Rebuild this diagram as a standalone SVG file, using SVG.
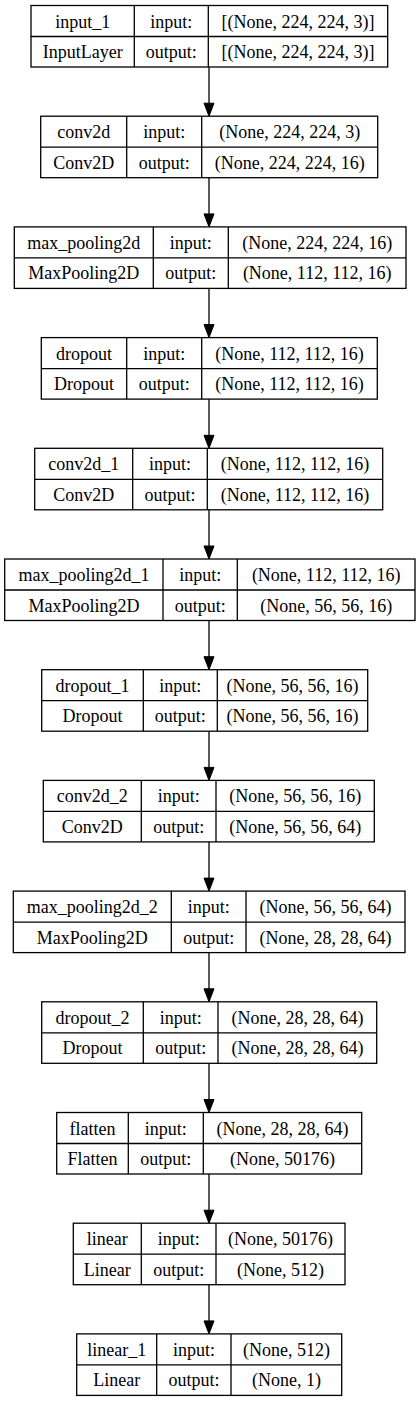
<svg xmlns="http://www.w3.org/2000/svg" width="419" height="1401" viewBox="0 0 419 1401" font-family="'Liberation Serif', 'Times New Roman', Times, serif">
<style>
.box{fill:#fff;stroke:#000;stroke-width:1.3}
.ln{stroke:#000;stroke-width:1.3;fill:none}
.t{font-family:'Liberation Serif','Times New Roman',Times,serif;font-size:18px;fill:#000;text-anchor:middle}
</style>
<defs>
<marker id="ah" markerUnits="userSpaceOnUse" markerWidth="14" markerHeight="11" refX="0" refY="5" orient="auto" overflow="visible">
<path d="M0,0 L13,5 L0,10 z" fill="#000" stroke="#000" stroke-width="1"/>
</marker>
</defs>
<rect width="419" height="1401" fill="#fff"/>
<g id="connectors">
<line class="ln" x1="209" y1="67" x2="209" y2="103.2" marker-end="url(#ah)"/>
<line class="ln" x1="209" y1="177.7" x2="209" y2="213.9" marker-end="url(#ah)"/>
<line class="ln" x1="209" y1="288.4" x2="209" y2="324.6" marker-end="url(#ah)"/>
<line class="ln" x1="209" y1="399.1" x2="209" y2="435.3" marker-end="url(#ah)"/>
<line class="ln" x1="209" y1="509.8" x2="209" y2="546" marker-end="url(#ah)"/>
<line class="ln" x1="209" y1="620.5" x2="209" y2="656.7" marker-end="url(#ah)"/>
<line class="ln" x1="209" y1="731.2" x2="209" y2="767.4" marker-end="url(#ah)"/>
<line class="ln" x1="209" y1="841.9" x2="209" y2="878.1" marker-end="url(#ah)"/>
<line class="ln" x1="209" y1="952.6" x2="209" y2="988.8" marker-end="url(#ah)"/>
<line class="ln" x1="209" y1="1063.3" x2="209" y2="1099.5" marker-end="url(#ah)"/>
<line class="ln" x1="209" y1="1174" x2="209" y2="1210.2" marker-end="url(#ah)"/>
<line class="ln" x1="209" y1="1284.7" x2="209" y2="1320.9" marker-end="url(#ah)"/>
</g>
<g id="input_1" class="t">
<rect class="box" x="31" y="5.5" width="356.7" height="61.5"/>
<path class="ln" d="M134.3,5.5V67M208.3,5.5V67M31,36.5H387.7"/>
<text x="82.7" y="27.5">input_1</text><text x="171.3" y="27.5">input:</text><text x="298" y="27.5">[(None, 224, 224, 3)]</text>
<text x="82.7" y="58">InputLayer</text><text x="171.3" y="58">output:</text><text x="298" y="58">[(None, 224, 224, 3)]</text>
</g>
<g id="conv2d" class="t">
<rect class="box" x="40.7" y="116.2" width="337" height="61.5"/>
<path class="ln" d="M126.7,116.2V177.7M201.7,116.2V177.7M40.7,147.2H377.7"/>
<text x="83.7" y="138.2">conv2d</text><text x="164.2" y="138.2">input:</text><text x="289.7" y="138.2">(None, 224, 224, 3)</text>
<text x="83.7" y="168.7">Conv2D</text><text x="164.2" y="168.7">output:</text><text x="289.7" y="168.7">(None, 224, 224, 16)</text>
</g>
<g id="max_pooling2d" class="t">
<rect class="box" x="14.3" y="226.9" width="391.7" height="61.5"/>
<path class="ln" d="M153.3,226.9V288.4M228.3,226.9V288.4M14.3,257.9H406"/>
<text x="83.8" y="248.9">max_pooling2d</text><text x="190.8" y="248.9">input:</text><text x="317.2" y="248.9">(None, 224, 224, 16)</text>
<text x="83.8" y="279.4">MaxPooling2D</text><text x="190.8" y="279.4">output:</text><text x="317.2" y="279.4">(None, 112, 112, 16)</text>
</g>
<g id="dropout" class="t">
<rect class="box" x="41.3" y="337.6" width="336" height="61.5"/>
<path class="ln" d="M126.7,337.6V399.1M201.7,337.6V399.1M41.3,368.6H377.3"/>
<text x="84" y="359.6">dropout</text><text x="164.2" y="359.6">input:</text><text x="289.5" y="359.6">(None, 112, 112, 16)</text>
<text x="84" y="390.1">Dropout</text><text x="164.2" y="390.1">output:</text><text x="289.5" y="390.1">(None, 112, 112, 16)</text>
</g>
<g id="conv2d_1" class="t">
<rect class="box" x="34.7" y="448.3" width="348" height="61.5"/>
<path class="ln" d="M132.7,448.3V509.8M207.3,448.3V509.8M34.7,479.3H382.7"/>
<text x="83.7" y="470.3">conv2d_1</text><text x="170" y="470.3">input:</text><text x="295" y="470.3">(None, 112, 112, 16)</text>
<text x="83.7" y="500.8">Conv2D</text><text x="170" y="500.8">output:</text><text x="295" y="500.8">(None, 112, 112, 16)</text>
</g>
<g id="max_pooling2d_1" class="t">
<rect class="box" x="4.7" y="559" width="410.3" height="61.5"/>
<path class="ln" d="M163,559V620.5M237.3,559V620.5M4.7,590H415"/>
<text x="83.9" y="581">max_pooling2d_1</text><text x="200.2" y="581">input:</text><text x="326.2" y="581">(None, 112, 112, 16)</text>
<text x="83.9" y="611.5">MaxPooling2D</text><text x="200.2" y="611.5">output:</text><text x="326.2" y="611.5">(None, 56, 56, 16)</text>
</g>
<g id="dropout_1" class="t">
<rect class="box" x="41.7" y="669.7" width="326" height="61.5"/>
<path class="ln" d="M143.3,669.7V731.2M217.3,669.7V731.2M41.7,700.7H367.7"/>
<text x="92.5" y="691.7">dropout_1</text><text x="180.3" y="691.7">input:</text><text x="292.5" y="691.7">(None, 56, 56, 16)</text>
<text x="92.5" y="722.2">Dropout</text><text x="180.3" y="722.2">output:</text><text x="292.5" y="722.2">(None, 56, 56, 16)</text>
</g>
<g id="conv2d_2" class="t">
<rect class="box" x="43.3" y="780.4" width="331" height="61.5"/>
<path class="ln" d="M141.3,780.4V841.9M216,780.4V841.9M43.3,811.4H374.3"/>
<text x="92.3" y="802.4">conv2d_2</text><text x="178.7" y="802.4">input:</text><text x="295.2" y="802.4">(None, 56, 56, 16)</text>
<text x="92.3" y="832.9">Conv2D</text><text x="178.7" y="832.9">output:</text><text x="295.2" y="832.9">(None, 56, 56, 64)</text>
</g>
<g id="max_pooling2d_2" class="t">
<rect class="box" x="13.3" y="891.1" width="391.7" height="61.5"/>
<path class="ln" d="M171.3,891.1V952.6M246,891.1V952.6M13.3,922.1H405"/>
<text x="92.3" y="913.1">max_pooling2d_2</text><text x="208.7" y="913.1">input:</text><text x="325.5" y="913.1">(None, 56, 56, 64)</text>
<text x="92.3" y="943.6">MaxPooling2D</text><text x="208.7" y="943.6">output:</text><text x="325.5" y="943.6">(None, 28, 28, 64)</text>
</g>
<g id="dropout_2" class="t">
<rect class="box" x="41.7" y="1001.8" width="335" height="61.5"/>
<path class="ln" d="M143.3,1001.8V1063.3M218,1001.8V1063.3M41.7,1032.8H376.7"/>
<text x="92.5" y="1023.8">dropout_2</text><text x="180.7" y="1023.8">input:</text><text x="297.4" y="1023.8">(None, 28, 28, 64)</text>
<text x="92.5" y="1054.3">Dropout</text><text x="180.7" y="1054.3">output:</text><text x="297.4" y="1054.3">(None, 28, 28, 64)</text>
</g>
<g id="flatten" class="t">
<rect class="box" x="56.7" y="1112.5" width="305" height="61.5"/>
<path class="ln" d="M128.3,1112.5V1174M203.3,1112.5V1174M56.7,1143.5H361.7"/>
<text x="92.5" y="1134.5">flatten</text><text x="165.8" y="1134.5">input:</text><text x="282.5" y="1134.5">(None, 28, 28, 64)</text>
<text x="92.5" y="1165">Flatten</text><text x="165.8" y="1165">output:</text><text x="282.5" y="1165">(None, 50176)</text>
</g>
<g id="linear" class="t">
<rect class="box" x="73.3" y="1223.2" width="271.7" height="61.5"/>
<path class="ln" d="M141.3,1223.2V1284.7M216,1223.2V1284.7M73.3,1254.2H345"/>
<text x="107.3" y="1245.2">linear</text><text x="178.7" y="1245.2">input:</text><text x="280.5" y="1245.2">(None, 50176)</text>
<text x="107.3" y="1275.7">Linear</text><text x="178.7" y="1275.7">output:</text><text x="280.5" y="1275.7">(None, 512)</text>
</g>
<g id="linear_1" class="t">
<rect class="box" x="76.7" y="1333.9" width="265" height="61.5"/>
<path class="ln" d="M156.7,1333.9V1395.4M231,1333.9V1395.4M76.7,1364.9H341.7"/>
<text x="116.7" y="1355.9">linear_1</text><text x="193.9" y="1355.9">input:</text><text x="286.4" y="1355.9">(None, 512)</text>
<text x="116.7" y="1386.4">Linear</text><text x="193.9" y="1386.4">output:</text><text x="286.4" y="1386.4">(None, 1)</text>
</g>
</svg>
